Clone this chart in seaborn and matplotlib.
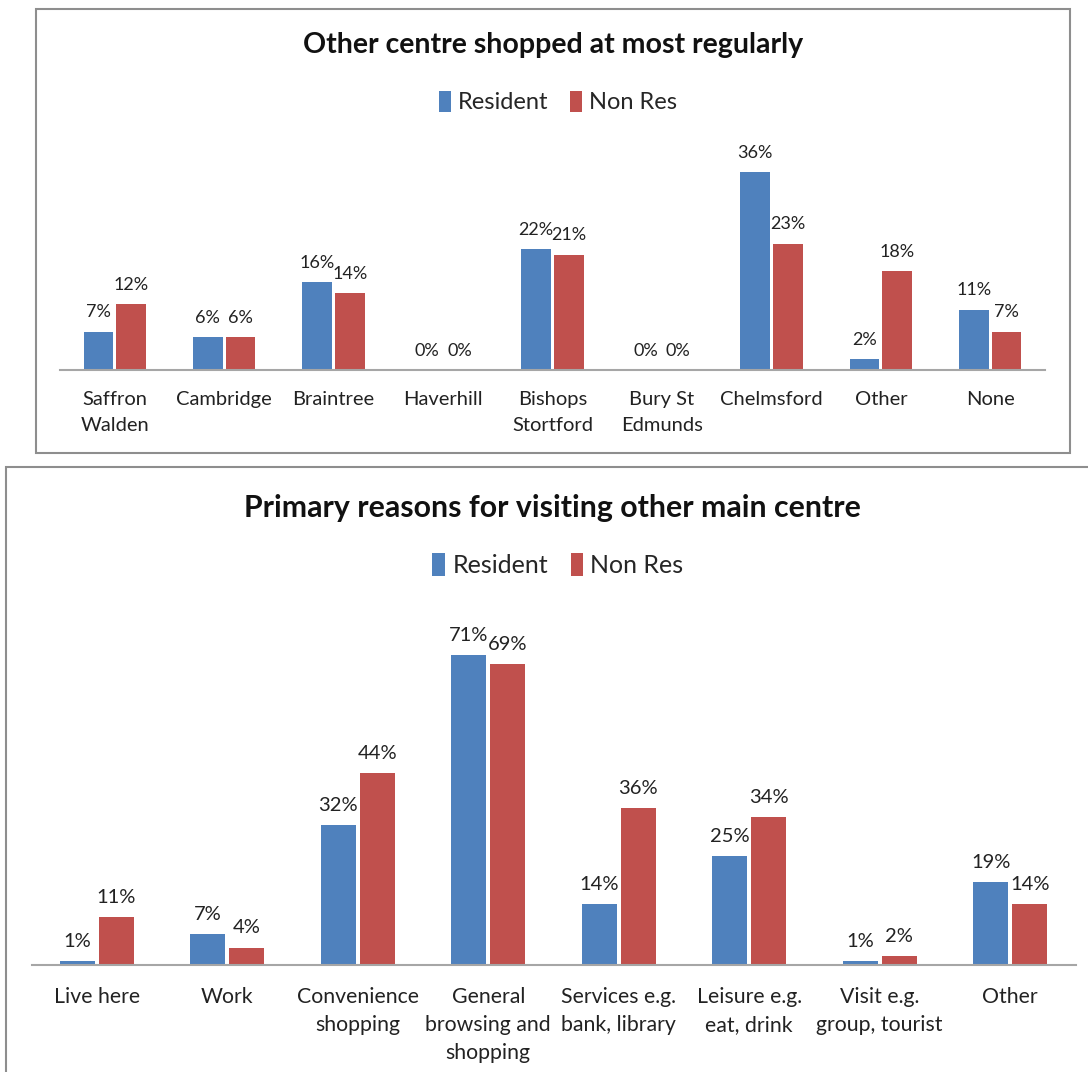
import matplotlib
matplotlib.use("Agg")
import matplotlib.pyplot as plt
import matplotlib.patches as mpatches
import pandas as pd
import seaborn as sns

# chart 1: other centre shopped at most regularly
centres = ["Saffron\nWalden", "Cambridge", "Braintree", "Haverhill", "Bishops\nStortford",
           "Bury St\nEdmunds", "Chelmsford", "Other", "None"]
centre_resident = [7, 6, 16, 0, 22, 0, 36, 2, 11]
centre_nonres = [12, 6, 14, 0, 21, 0, 23, 18, 7]

# chart 2: primary reasons for visiting other main centre
reasons = ["Live here", "Work", "Convenience\nshopping", "General\nbrowsing and\nshopping",
           "Services e.g.\nbank, library", "Leisure e.g.\neat, drink", "Visit e.g.\ngroup, tourist", "Other"]
reason_resident = [1, 7, 32, 71, 14, 25, 1, 19]
reason_nonres = [11, 4, 44, 69, 36, 34, 2, 14]

groups = ["Resident", "Non Res"]
colors = {"Resident": "#4F81BD", "Non Res": "#C0504D"}

sns.set_theme(style="white")
plt.rcParams['font.family'] = ['Lato', 'DejaVu Sans']


def long_df(cats, res, nonres):
    return pd.DataFrame({
        "cat": cats * 2,
        "group": ["Resident"] * len(cats) + ["Non Res"] * len(cats),
        "value": res + nonres,
    })


fig = plt.figure(figsize=(10.88, 10.72), dpi=100)

# panel borders
fig.patches.append(mpatches.Rectangle((36 / 1088, 1 - 453 / 1072), 1034 / 1088, 444 / 1072,
                                      transform=fig.transFigure, fill=False,
                                      edgecolor="#8E8E8E", lw=1.5))
fig.patches.append(mpatches.Rectangle((6 / 1088, -0.02), 1.1, 0.02 + (1072 - 467) / 1072,
                                      transform=fig.transFigure, fill=False,
                                      edgecolor="#8E8E8E", lw=1.5))


def draw(ax, df, cats, ymax, tick_fs, tick_pad, label_fs, label_pad, linesp, legend_y, leg_fs):
    sns.barplot(data=df, x="cat", y="value", hue="group", order=cats, hue_order=groups,
                palette=colors, saturation=1, width=0.6, gap=0.1, ax=ax, linewidth=0)
    ax.set_ylim(0, ymax)
    ax.set_xlim(-0.5, len(cats) - 0.5)
    for cont in ax.containers:
        ax.bar_label(cont, labels=[f"{v:.0f}%" for v in cont.datavalues],
                     padding=label_pad, fontsize=label_fs, color="#222222")
    for s in ["top", "left", "right"]:
        ax.spines[s].set_visible(False)
    ax.spines["bottom"].set_color("#A6A6A6")
    ax.spines["bottom"].set_linewidth(1.5)
    ax.set_yticks([])
    ax.set_xlabel("")
    ax.set_ylabel("")
    ax.tick_params(axis="x", length=0, pad=tick_pad, labelsize=tick_fs, colors="#222222")
    for t in ax.get_xticklabels():
        t.set_linespacing(linesp)
        t.set_verticalalignment("top")
    handles, labels = ax.get_legend_handles_labels()
    ax.legend(handles, labels, loc="center", bbox_to_anchor=(558 / 1088, legend_y),
              bbox_transform=fig.transFigure, ncol=2, frameon=False,
              handlelength=0.5, handleheight=1.0, handletextpad=0.3,
              columnspacing=0.9, fontsize=leg_fs)


ax1 = fig.add_axes([60 / 1088, 1 - 370 / 1072, 985 / 1088, 220 / 1072])
draw(ax1, long_df(centres, centre_resident, centre_nonres), centres, 40,
     14.5, 15, 13, 8, 1.65, 1 - 102 / 1072, 17)
fig.text(553 / 1088, 1 - 45 / 1072, "Other centre shopped at most regularly",
         ha="center", va="center", fontsize=20.5, fontweight="bold", color="#111111")

ax2 = fig.add_axes([31.5 / 1088, 1 - 965 / 1072, 1044 / 1088, 349 / 1072])
draw(ax2, long_df(reasons, reason_resident, reason_nonres), reasons, 80,
     15.3, 16, 14.5, 8, 1.5, 1 - 565 / 1072, 18)
fig.text(552 / 1088, 1 - 508 / 1072, "Primary reasons for visiting other main centre",
         ha="center", va="center", fontsize=21.8, fontweight="bold", color="#111111")

fig.savefig("out.png", dpi=100, facecolor="white")
